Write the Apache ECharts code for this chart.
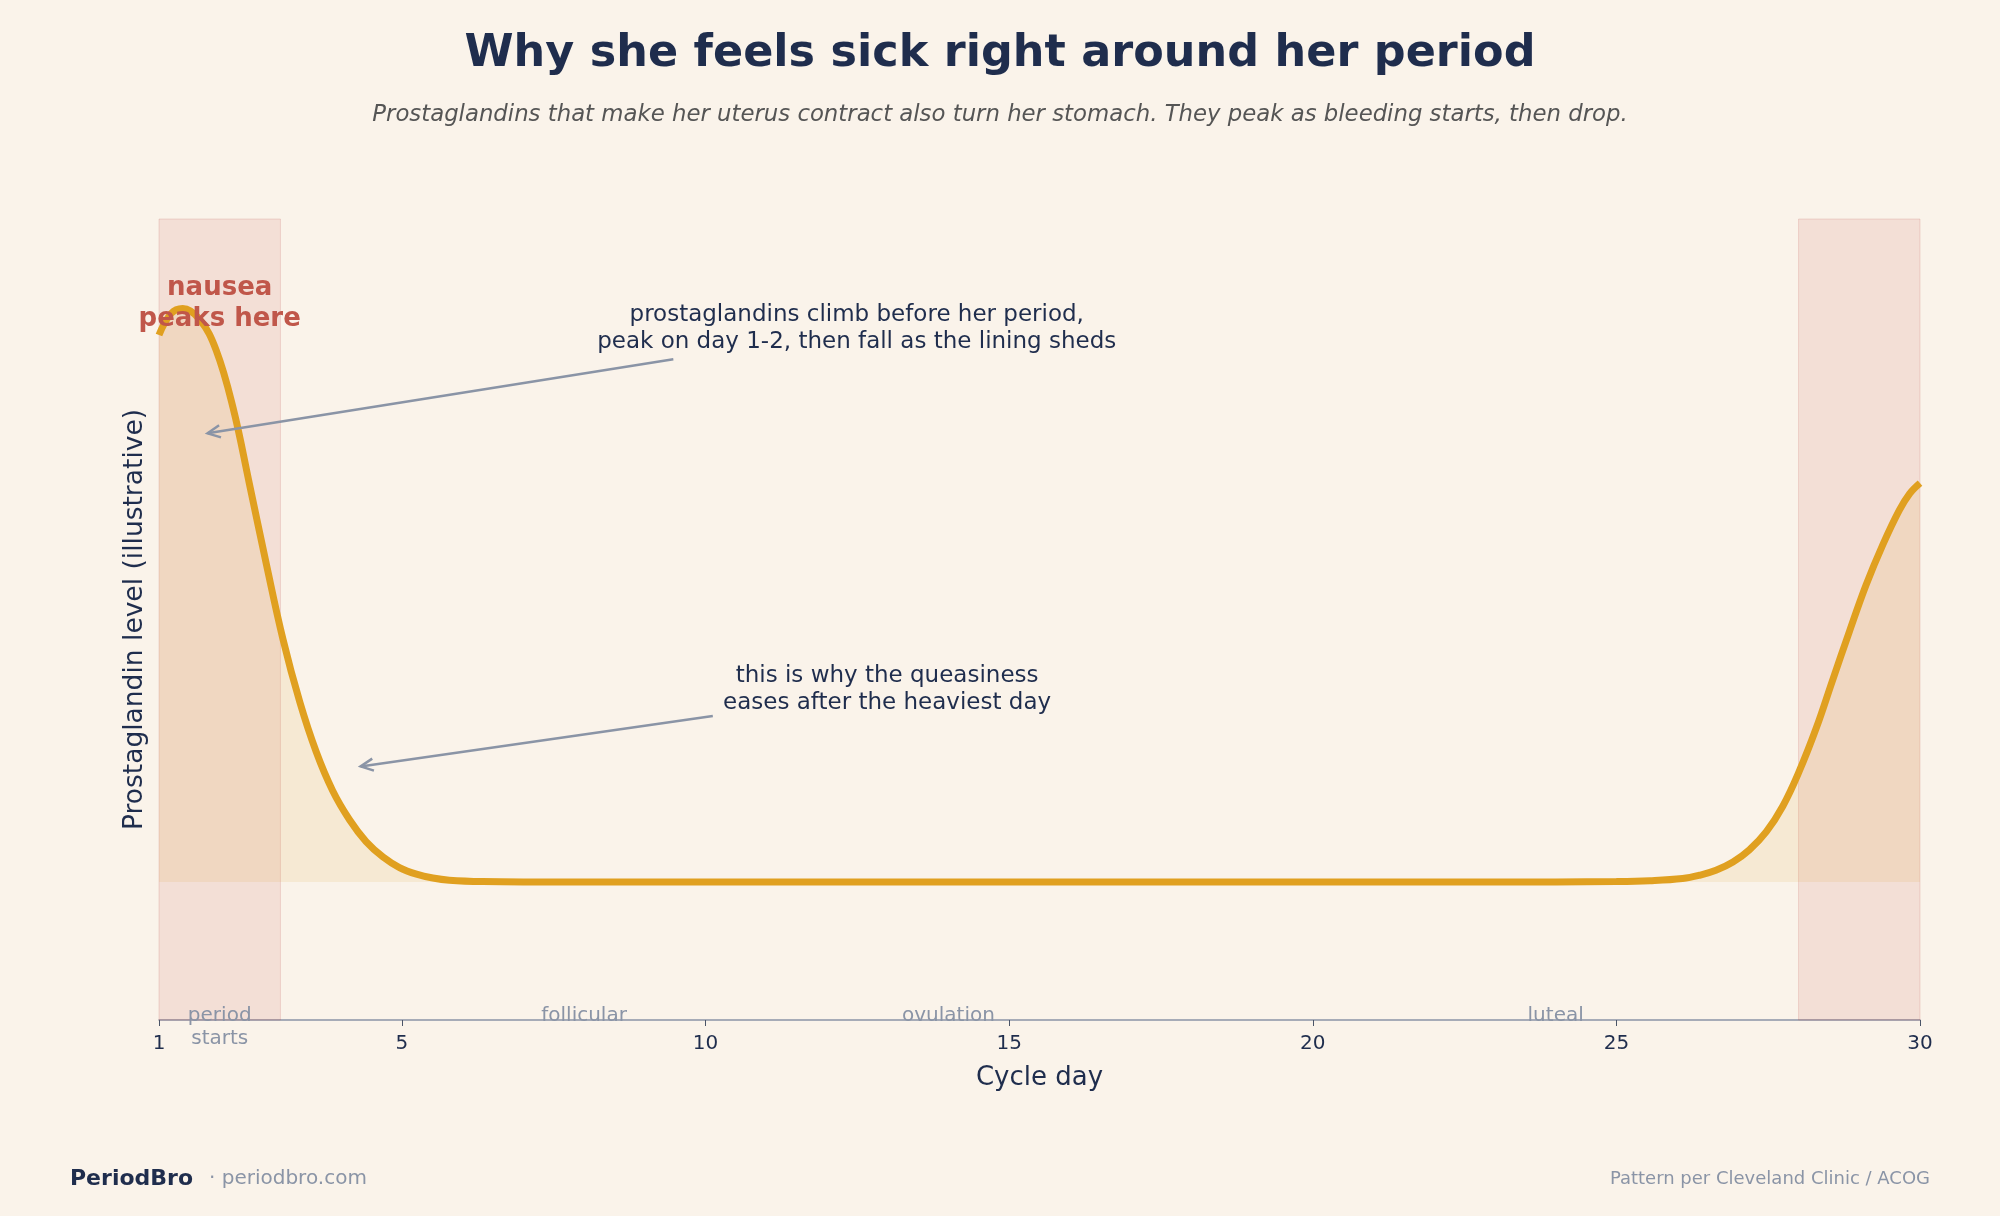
<!DOCTYPE html>
<html>
<head>
<meta charset="utf-8">
<title>Why she feels sick right around her period</title>
<script src="https://cdn.jsdelivr.net/npm/echarts@6/dist/echarts.min.js"></script>
<style>
  html, body { margin: 0; padding: 0; background: #faf3ea; }
  #chart { width: 2000px; height: 1216px; }
</style>
</head>
<body>
<div id="chart"></div>
<script>
// curve: [cycle day, prostaglandin level]
const cycleDays = [1.0, 1.2, 1.39, 1.67, 1.94, 2.22, 2.49, 2.77, 3.04, 3.32, 3.59, 3.86, 4.14, 4.41, 4.69, 4.96,
  5.24, 5.51, 5.78, 6.33, 7, 8, 10, 12, 14, 16, 18, 20, 22, 24, 25, 25.55, 26.09, 26.37, 26.64, 26.92, 27.19,
  27.47, 27.74, 28.01, 28.29, 28.56, 28.84, 29.11, 29.39, 29.66, 29.83, 30];
const levels = [0.99, 1.029, 1.038, 1.018, 0.963, 0.858, 0.720, 0.574, 0.440, 0.325, 0.235, 0.165, 0.112, 0.073, 0.045, 0.026,
  0.014, 0.007, 0.003, 0.0005, 0, 0, 0, 0, 0, 0, 0, 0, 0, 0, 0.0005, 0.002, 0.006, 0.012, 0.021, 0.036, 0.058,
  0.091, 0.137, 0.200, 0.278, 0.365, 0.454, 0.537, 0.611, 0.673, 0.703, 0.722];

const dayTicks = [1, 5, 10, 15, 20, 25, 30];
const periodBands = [[1, 3], [28, 30]];

const phaseNames = ['period\nstarts', 'follicular', 'ovulation', 'luteal'];
const phaseDays = [2, 8, 14, 24];

const notes = [
  { text: 'prostaglandins climb before her period,\npeak on day 1-2, then fall as the lining sheds', at: [12.49, 1.002], arrow: [9.47, 0.946, 1.80, 0.812] },
  { text: 'this is why the queasiness\neases after the heaviest day', at: [12.99, 0.3485], arrow: [10.12, 0.3005, 4.32, 0.209] }
];

const NAVY = '#1f2d4d';
const GREY = '#8a94a6';
const FONT = 'DejaVu Sans';

const chart = echarts.init(document.getElementById('chart'));

// text-only scatter, the symbol itself is hidden
function textSeries(data, label) {
  return {
    type: 'scatter', silent: true, clip: false, symbolSize: 0, z: 5,
    itemStyle: { opacity: 1 },
    data: data,
    label: Object.assign({ show: true, position: 'inside', align: 'center', verticalAlign: 'middle', fontFamily: FONT }, label)
  };
}

const option = {
  backgroundColor: '#faf3ea',
  animation: false,
  textStyle: { fontFamily: FONT },
  title: [
    {
      text: 'Why she feels sick right around her period',
      left: 'center', top: 27,
      textStyle: { fontFamily: FONT, fontSize: 44.5, fontWeight: 'bold', color: NAVY }
    },
    {
      text: 'Prostaglandins that make her uterus contract also turn her stomach. They peak as bleeding starts, then drop.',
      left: 'center', top: 99,
      textStyle: { fontFamily: FONT, fontSize: 22.8, fontStyle: 'italic', fontWeight: 'normal', color: '#555555' }
    }
  ],
  grid: { left: 159, right: 80, top: 219, bottom: 196 },
  xAxis: {
    type: 'value', min: 1, max: 30,
    name: 'Cycle day', nameLocation: 'middle', nameGap: 45,
    nameTextStyle: { fontFamily: FONT, fontSize: 26, color: NAVY },
    axisLine: { onZero: false, lineStyle: { color: GREY, width: 1.5 } },
    axisTick: { customValues: dayTicks, length: 6, lineStyle: { color: '#4a5468' } },
    axisLabel: { customValues: dayTicks, fontSize: 20, color: NAVY, margin: 14 },
    splitLine: { show: false }
  },
  yAxis: {
    type: 'value', min: -0.25, max: 1.2,
    name: 'Prostaglandin level (illustrative)', nameLocation: 'middle', nameGap: 10,
    nameTextStyle: { fontFamily: FONT, fontSize: 26.5, color: NAVY },
    axisLine: { show: false }, axisTick: { show: false }, axisLabel: { show: false },
    splitLine: { show: false }
  },
  series: [
    {
      type: 'line',
      data: cycleDays.map((d, i) => [d, levels[i]]),
      smooth: 0.4,
      showSymbol: false,
      lineStyle: { color: '#e0a020', width: 7 },
      areaStyle: { color: 'rgba(224,162,32,0.16)' },
      z: 3,
      markArea: {
        silent: true,
        itemStyle: { color: 'rgba(196,85,75,0.12)', borderColor: 'rgba(196,85,75,0.18)', borderWidth: 1 },
        data: periodBands.map(b => [{ xAxis: b[0] }, { xAxis: b[1] }])
      }
    },
    {
      // arrows from the notes to the curve
      type: 'custom',
      silent: true,
      clip: false,
      z: 4,
      data: notes.map(n => n.arrow),
      encode: { x: [0, 2], y: [1, 3] },
      renderItem: function (params, api) {
        const a = api.coord([api.value(0), api.value(1)]);
        const b = api.coord([api.value(2), api.value(3)]);
        const ang = Math.atan2(a[1] - b[1], a[0] - b[0]);
        const L = 14, spread = 0.45;
        const h1 = [b[0] + L * Math.cos(ang + spread), b[1] + L * Math.sin(ang + spread)];
        const h2 = [b[0] + L * Math.cos(ang - spread), b[1] + L * Math.sin(ang - spread)];
        const st = { stroke: GREY, lineWidth: 2.5, fill: null };
        return {
          type: 'group',
          children: [
            { type: 'line', shape: { x1: a[0], y1: a[1], x2: b[0], y2: b[1] }, style: st },
            { type: 'polyline', shape: { points: [h1, b, h2] }, style: st }
          ]
        };
      }
    },
    // note texts
    textSeries(notes.map(n => ({ value: n.at, text: n.text })), {
      formatter: p => p.data.text, fontSize: 23, lineHeight: 27, color: NAVY
    }),
    // nausea label
    textSeries([[2.0, 1.047]], {
      formatter: 'nausea\npeaks here', fontSize: 26, lineHeight: 31, fontWeight: 'bold', color: '#c0574a'
    }),
    // phase names along the axis
    textSeries(phaseDays.map((d, i) => ({ value: [d, i === 0 ? -0.263 : -0.2426], name: phaseNames[i] })), {
      formatter: p => p.name, fontSize: 20, lineHeight: 23, color: GREY
    })
  ],
  graphic: [
    { type: 'text', left: 70, top: 1168, style: { text: 'PeriodBro', font: 'bold 22px "DejaVu Sans"', fill: NAVY } },
    { type: 'text', left: 209, top: 1169, style: { text: '· periodbro.com', font: '20px "DejaVu Sans"', fill: GREY } },
    { type: 'text', right: 70, top: 1170, style: { text: 'Pattern per Cleveland Clinic / ACOG', font: '18px "DejaVu Sans"', fill: GREY } }
  ]
};

chart.setOption(option);
</script>
</body>
</html>
